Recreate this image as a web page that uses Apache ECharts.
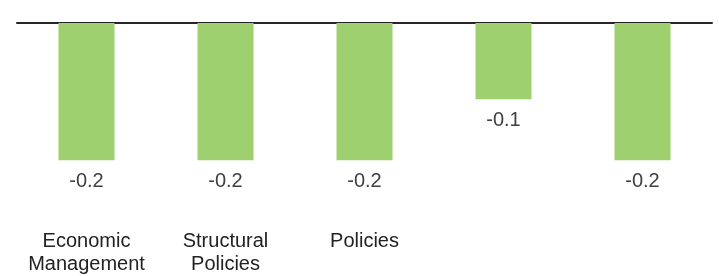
<!DOCTYPE html>
<html>
<head>
<meta charset="utf-8">
<script src="https://cdn.jsdelivr.net/npm/echarts@6/dist/echarts.min.js"></script>
<style>
  html, body { margin: 0; padding: 0; background: #ffffff; }
  #chart { width: 719px; height: 276px; }
</style>
</head>
<body>
<div id="chart"></div>
<script>
// categories (last two have no visible label in the source)
var categories = ['Economic\nManagement', 'Structural\nPolicies', 'Policies', '', ''];
// bar values (shown rounded to one decimal)
var values = [-0.18, -0.18, -0.18, -0.10, -0.18];

var chart = echarts.init(document.getElementById('chart'), null, { renderer: 'canvas' });

var option = {
  backgroundColor: '#ffffff',
  animation: false,
  grid: { left: 17, right: 7, top: 23, bottom: 51 },
  xAxis: [{
    // zero line on top
    type: 'category',
    position: 'top',
    data: categories,
    axisLine: { show: true, lineStyle: { color: '#262626', width: 2 } },
    axisTick: { show: false },
    axisLabel: { show: false }
  }, {
    // category labels below the plot
    type: 'category',
    position: 'bottom',
    data: categories,
    axisLine: { show: false },
    axisTick: { show: false },
    axisLabel: {
      interval: 0,
      margin: 5,
      color: '#222222',
      fontFamily: 'Liberation Sans, Arial, sans-serif',
      fontSize: 20,
      lineHeight: 23
    }
  }],
  yAxis: {
    type: 'value',
    min: -0.265,
    max: 0,
    show: false,
    splitLine: { show: false }
  },
  series: [{
    type: 'bar',
    data: values,
    barWidth: 56,
    itemStyle: { color: '#9ed06f' },
    label: {
      show: true,
      position: 'bottom',
      distance: 11,
      color: '#404040',
      fontFamily: 'Liberation Sans, Arial, sans-serif',
      fontSize: 20,
      formatter: function (p) { return p.value.toFixed(1); }
    }
  }]
};

chart.setOption(option);
</script>
</body>
</html>
